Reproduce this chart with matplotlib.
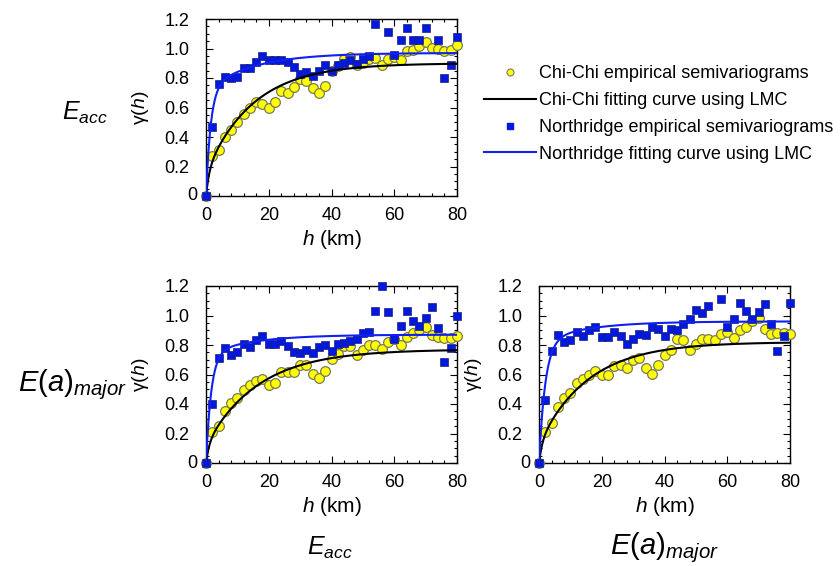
import numpy as np
import matplotlib
matplotlib.use("Agg")
import matplotlib.pyplot as plt
from matplotlib.lines import Line2D
from matplotlib.ticker import MultipleLocator, FuncFormatter

plt.rcParams['font.family'] = ['Liberation Sans', 'DejaVu Sans']
plt.rcParams['mathtext.fontset'] = 'custom'
plt.rcParams['mathtext.rm'] = 'Liberation Sans'
plt.rcParams['mathtext.it'] = 'Liberation Sans:italic'
plt.rcParams['mathtext.bf'] = 'Liberation Sans:bold'

nan = np.nan
# lag distances (km)
h = [0, 2, 4, 6, 8, 10, 12, 14, 16, 18, 20, 22, 24, 26, 28, 30, 32, 34, 36, 38, 40,
     42, 44, 46, 48, 50, 52, 54, 56, 58, 60, 62, 64, 66, 68, 70, 72, 74, 76, 78, 80]

# Panel Eacc (top)
chichi_eacc = [0, 0.27, 0.31, 0.40, 0.45, 0.50, 0.555, 0.595, 0.64, 0.625, 0.595, 0.64, 0.71, 0.70,
               0.74, 0.795, 0.78, 0.735, 0.70, 0.745, 0.85, 0.88, 0.93, 0.94, 0.885, 0.905, 0.93,
               0.935, 0.885, 0.93, 0.94, 0.92, 0.98, 0.99, 1.02, 1.045, 1.005, 0.995, 0.985, 0.99, 1.025]
north_eacc = [0, 0.47, 0.76, 0.81, 0.80, 0.81, 0.865, 0.87, 0.91, 0.95, 0.92, 0.92, 0.925, 0.91,
              0.875, 0.825, 0.84, 0.815, 0.85, 0.885, 0.845, 0.885, 0.905, 0.92, 0.895, 0.93, 0.95,
              1.165, nan, 1.11, 0.955, 1.06, 1.14, 1.06, 1.06, 1.14, nan, 1.055, 0.80, 0.89, 1.08]

# Panel cross Eacc / E(a)major (bottom left)
chichi_cross = [0, 0.21, 0.25, 0.35, 0.405, 0.44, 0.495, 0.527, 0.558, 0.567, 0.527, 0.545, 0.617,
                0.617, 0.617, 0.667, 0.662, 0.606, 0.576, 0.621, 0.705, 0.74, 0.795, 0.795, 0.735,
                0.765, 0.80, 0.80, 0.772, 0.82, 0.84, 0.803, 0.856, 0.88, 0.905, 0.924, 0.868, 0.852,
                0.845, 0.85, 0.863]
north_cross = [0, 0.40, 0.714, 0.78, 0.73, 0.75, 0.807, 0.786, 0.834, 0.863, 0.805, 0.805, 0.829,
               0.793, 0.753, 0.746, 0.768, 0.746, 0.789, 0.802, 0.762, 0.807, 0.812, 0.83, 0.84,
               0.878, 0.889, 1.032, 1.20, 1.025, 0.844, 0.93, 1.032, 0.964, 0.931, 0.985, 1.058,
               0.918, 0.683, 0.782, 0.999]

# Panel E(a)major (bottom right)
chichi_emaj = [0, 0.209, 0.272, 0.383, 0.439, 0.473, 0.543, 0.57, 0.599, 0.626, 0.594, 0.594, 0.66,
               0.664, 0.642, 0.698, 0.709, 0.642, 0.603, 0.666, 0.734, 0.765, 0.844, 0.835, 0.765,
               0.806, 0.844, 0.844, 0.835, 0.873, 0.885, 0.849, 0.903, 0.925, 0.964, 0.986, 0.907,
               0.873, 0.88, 0.88, 0.873]
north_emaj = [0, 0.43, 0.756, 0.869, 0.817, 0.833, 0.891, 0.864, 0.90, 0.925, 0.851, 0.851, 0.891,
              0.858, 0.81, 0.84, 0.873, 0.869, 0.925, 0.907, 0.862, 0.907, 0.90, 0.939, 0.973,
              1.036, 1.015, 1.067, nan, 1.114, 0.925, 0.979, 1.087, 1.033, 0.975, 1.024, 1.081,
              0.939, 0.756, 0.864, 1.087]

# LMC fitted nested exponential models: (sill1, range1, sill2, range2)
fit_chichi_eacc = (0.16, 3.0, 0.74, 45.0)
fit_north_eacc = (0.72, 4.5, 0.25, 45.0)
fit_chichi_cross = (0.12, 3.0, 0.65, 50.0)
fit_north_cross = (0.74, 5.0, 0.13, 45.0)
fit_chichi_emaj = (0.13, 3.0, 0.69, 47.0)
fit_north_emaj = (0.82, 6.0, 0.14, 45.0)

y_ticks = [0, 0.2, 0.4, 0.6, 0.8, 1.0, 1.2]
x_ticks = [0, 20, 40, 60, 80]

legend_labels = ['Chi-Chi empirical semivariograms', 'Chi-Chi fitting curve using LMC',
                 'Northridge empirical semivariograms', 'Northridge fitting curve using LMC']

YELLOW = '#FFFF00'
YEDGE = '#7a7a5a'
BLUE = '#0018E0'
BLINE = '#1020F0'


def lmc(hh, p):
    c1, a1, c2, a2 = p
    return c1 * (1 - np.exp(-3 * hh / a1)) + c2 * (1 - np.exp(-3 * hh / a2))


fig = plt.figure(figsize=(8.4, 5.66), dpi=100)
W, H = 840, 566


def make_ax(x0, y_top, x1, y_bot):
    return fig.add_axes([x0 / W, 1 - y_bot / H, (x1 - x0) / W, (y_bot - y_top) / H])


ax1 = make_ax(206, 19, 457, 196)
ax2 = make_ax(206, 286, 457, 463)
ax3 = make_ax(539, 286, 790, 463)

hh = np.linspace(0, 80, 600)
panels = [(ax1, chichi_eacc, north_eacc, fit_chichi_eacc, fit_north_eacc),
          (ax2, chichi_cross, north_cross, fit_chichi_cross, fit_north_cross),
          (ax3, chichi_emaj, north_emaj, fit_chichi_emaj, fit_north_emaj)]

for ax, cc, nr, fcc, fnr in panels:
    ax.plot(h, cc, 'o', ms=7, mfc=YELLOW, mec=YEDGE, mew=0.9, zorder=3, clip_on=False)
    ax.plot(h, nr, 's', ms=6.2, mfc=BLUE, mec='#202070', mew=0.5, zorder=4, clip_on=False)
    ax.plot(hh, lmc(hh, fcc), color='black', lw=1.5, zorder=5)
    ax.plot(hh, lmc(hh, fnr), color=BLINE, lw=1.5, zorder=6)
    ax.set_xlim(0, 80)
    ax.set_ylim(0, 1.2)
    ax.set_xticks(x_ticks)
    ax.set_yticks(y_ticks)
    ax.xaxis.set_minor_locator(MultipleLocator(4))
    ax.yaxis.set_minor_locator(MultipleLocator(0.05))
    ax.yaxis.set_major_formatter(FuncFormatter(lambda v, p: '' if abs(v) < 1e-9 else f'{v:.1f}'))
    ax.tick_params(which='both', direction='in', top=True, right=True, labelsize=13, width=0.8)
    ax.tick_params(which='major', length=5)
    ax.tick_params(which='minor', length=2.5)
    ax.tick_params(axis='y', pad=12)
    ax.tick_params(axis='x', pad=8)
    for s in ax.spines.values():
        s.set_linewidth(1.0)
    ax.annotate('0', xy=(0, 0), xycoords='axes fraction', xytext=(-6.5, 0),
                textcoords='offset points', ha='right', va='center', fontsize=13)
    ax.set_xlabel(r'$h$ (km)', fontsize=15, labelpad=3)
    ax.set_ylabel(r'$\mathrm{\gamma}(h)$', fontsize=14, va='center')
    ax.yaxis.set_label_coords(-0.259, 0.5)

# row / column labels
fig.text(85 / W, 1 - 113 / H, r'$E_{acc}$', fontsize=18, ha='center', va='center')
fig.text(72 / W, 1 - 385 / H, r'$E\mathrm{(}a\mathrm{)}_{major}$', fontsize=21, ha='center', va='center')
fig.text(330 / W, 1 - 548 / H, r'$E_{acc}$', fontsize=18, ha='center', va='center')
fig.text(664 / W, 1 - 548 / H, r'$E\mathrm{(}a\mathrm{)}_{major}$', fontsize=21, ha='center', va='center')

handles = [Line2D([], [], ls='none', marker='o', ms=5, mfc=YELLOW, mec=YEDGE, mew=0.8),
           Line2D([], [], color='black', lw=1.5),
           Line2D([], [], ls='none', marker='s', ms=4.5, mfc=BLUE, mec=BLUE),
           Line2D([], [], color=BLINE, lw=1.5)]
fig.legend(handles, legend_labels, loc='upper left', bbox_to_anchor=(484 / W, 1 - 65 / H),
           frameon=False, fontsize=13, handlelength=2.9, handletextpad=0.15,
           labelspacing=0.55, borderpad=0, borderaxespad=0)

fig.savefig('out.png', dpi=100)
